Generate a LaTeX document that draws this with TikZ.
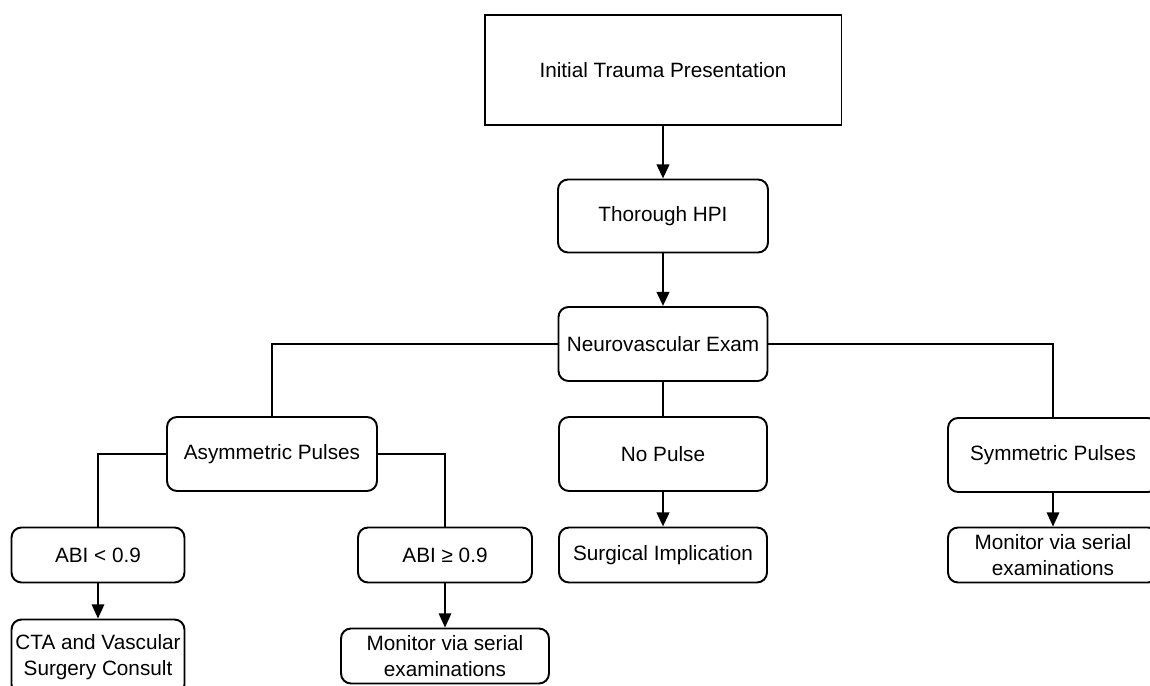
\documentclass[tikz,border=0pt]{standalone}
\usepackage{fontspec}
\setmainfont{Liberation Sans}
\usetikzlibrary{arrows.meta}
\tikzset{
  box/.style={draw, line width=1.1pt, align=center, inner sep=0pt,
    font=\fontsize{11.8}{15}\selectfont},
  rbox/.style={box, rounded corners=0.2cm},
  link/.style={line width=1.1pt},
  arr/.style={line width=1.1pt, -{Triangle[length=8pt,width=7pt]}},
  thickarr/.style={arr, line width=1.6pt}
}
\begin{document}
\begin{tikzpicture}[x=0.02cm, y=-0.02cm]
\useasboundingbox (0,0) rectangle (1150,686);
% top of the chart
%-----------------------------------------------------------%
  \node[box, minimum width=7.14cm, minimum height=2.2cm] (init) at (663,70) {Initial Trauma Presentation};
  \node[rbox, minimum width=4.2cm, minimum height=1.46cm] (hpi) at (663,216) {Thorough HPI};
  \node[rbox, minimum width=4.18cm, minimum height=1.48cm] (neuro) at (663,344) {Neurovascular Exam};
% pulse findings
  \node[rbox, minimum width=4.2cm, minimum height=1.48cm] (asym) at (272,454) {Asymmetric Pulses};
  \node[rbox, minimum width=4.16cm, minimum height=1.48cm] (nopulse) at (663,454) {No Pulse};
  \node[rbox, minimum width=4.2cm, minimum height=1.48cm] (sym) at (1053,455) {Symmetric Pulses};
% ABI split
  \node[rbox, minimum width=3.46cm, minimum height=1.1cm] (abilo) at (98,555) {ABI < 0.9};
  \node[rbox, minimum width=3.48cm, minimum height=1.1cm] (abihi) at (445,555) {ABI ≥ 0.9};
  \node[rbox, minimum width=4.16cm, minimum height=1.1cm] (surg) at (663,555) {Surgical Implication};
% outcomes
  \node[rbox, minimum width=3.46cm, minimum height=1.5cm] (cta) at (98,657) {CTA and Vascular\\Surgery Consult};
  \node[rbox, minimum width=4.16cm, minimum height=1.1cm] (mona) at (445,656) {Monitor via serial\\examinations};
  \node[rbox, minimum width=4.2cm, minimum height=1.1cm] (monb) at (1053,555) {Monitor via serial\\examinations};
%-----------------------------------------------------------%
% connectors
  \draw[thickarr] (init) -- (hpi);
  \draw[thickarr] (hpi) -- (neuro);
  \draw[link] (neuro.west) -| (asym.north);
  \draw[link] (neuro.east) -| (sym.north);
  \draw[link] (neuro) -- (nopulse);
  \draw[thickarr] (nopulse) -- (surg);
  \draw[link] (asym.west) -| (abilo.north);
  \draw[link] (asym.east) -| (abihi.north);
  \draw[arr] (abilo) -- (cta);
  \draw[arr] (abihi) -- (mona);
  \draw[arr] (sym) -- (monb);
\end{tikzpicture}
\end{document}
